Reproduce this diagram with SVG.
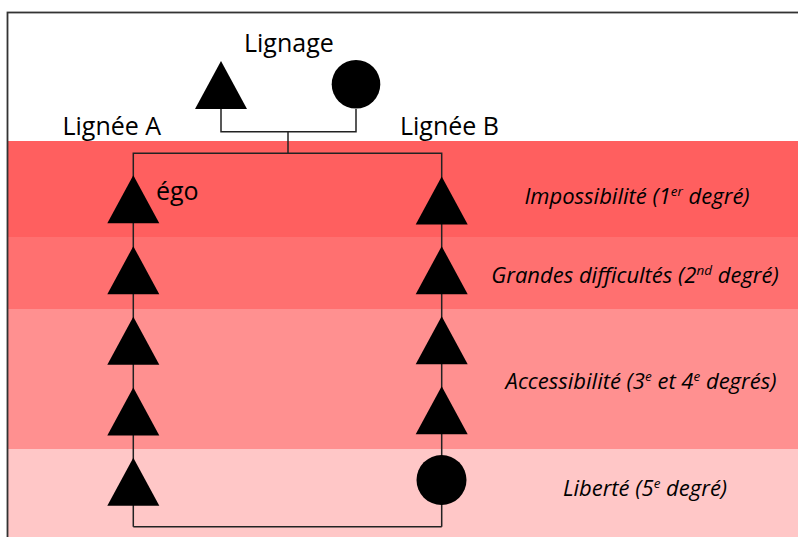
<svg xmlns="http://www.w3.org/2000/svg" width="798" height="537" viewBox="0 0 798 537">
<style>
.lbl{font-family:"Open Sans","Noto Sans",sans-serif;font-size:25px;fill:#000}
.deg{font-family:"Open Sans","Noto Sans",sans-serif;font-size:22px;font-style:italic;fill:#000;text-anchor:middle}
.sup{font-size:13.5px}
.ln{fill:none;stroke:#222;stroke-width:1.5}
.sym{fill:#000}
</style>
<defs>
<polygon id="tri" points="0,-24 26,24 -26,24"/>
</defs>
<rect x="0" y="0" width="798" height="537" fill="#fff"/>
<g id="bands">
<rect x="8" y="141" width="790" height="96" fill="#FF5F5F"/>
<rect x="8" y="237" width="790" height="72" fill="#FF7070"/>
<rect x="8" y="309" width="790" height="140" fill="#FF9090"/>
<rect x="8" y="449" width="790" height="88" fill="#FFC7C7"/>
</g>
<rect x="7.5" y="12.5" width="800" height="540" fill="none" stroke="#333" stroke-width="1.8"/>
<g id="connectors">
<polyline class="ln" points="221,109 221,131.7 356,131.7 356,109"/>
<line class="ln" x1="288" y1="131.7" x2="288" y2="153.3"/>
<polyline class="ln" points="133.3,175 133.3,153.3 441.7,153.3 441.7,177"/>
<line class="ln" x1="133.3" y1="175" x2="133.3" y2="526.7"/>
<line class="ln" x1="441.7" y1="177" x2="441.7" y2="526.7"/>
<line class="ln" x1="133.3" y1="526.7" x2="441.7" y2="526.7"/>
</g>
<g id="lignage-pere"><use href="#tri" class="sym" x="221" y="85"/></g>
<g id="lignage-mere"><circle class="sym" cx="356" cy="84.3" r="24.3"/></g>
<g id="a1"><use href="#tri" class="sym" x="133.3" y="199.2"/></g>
<g id="a2"><use href="#tri" class="sym" x="133.3" y="270.2"/></g>
<g id="a3"><use href="#tri" class="sym" x="133.3" y="340.8"/></g>
<g id="a4"><use href="#tri" class="sym" x="133.3" y="411.5"/></g>
<g id="a5"><use href="#tri" class="sym" x="133.3" y="481.8"/></g>
<g id="b1"><use href="#tri" class="sym" x="441.7" y="200.5"/></g>
<g id="b2"><use href="#tri" class="sym" x="441.7" y="270.2"/></g>
<g id="b3"><use href="#tri" class="sym" x="441.7" y="340.2"/></g>
<g id="b4"><use href="#tri" class="sym" x="441.7" y="410.2"/></g>
<g id="b5"><circle class="sym" cx="441.5" cy="480" r="25"/></g>
<g id="labels">
<text class="lbl" x="244" y="51.5">Lignage</text>
<text class="lbl" x="62.5" y="135">Lignée A</text>
<text class="lbl" x="400" y="135">Lignée B</text>
<text class="lbl" x="156" y="199.5">égo</text>
<text class="deg" x="637" y="204">Impossibilité (1<tspan class="sup" dy="-8">er</tspan><tspan dy="8"> degré)</tspan></text>
<text class="deg" x="635" y="282.7">Grandes difficultés (2<tspan class="sup" dy="-8">nd</tspan><tspan dy="8"> degré)</tspan></text>
<text class="deg" x="641" y="389.3">Accessibilité (3<tspan class="sup" dy="-8">e</tspan><tspan dy="8"> et 4</tspan><tspan class="sup" dy="-8">e</tspan><tspan dy="8"> degrés)</tspan></text>
<text class="deg" x="645" y="496">Liberté (5<tspan class="sup" dy="-8">e</tspan><tspan dy="8"> degré)</tspan></text>
</g>
</svg>
